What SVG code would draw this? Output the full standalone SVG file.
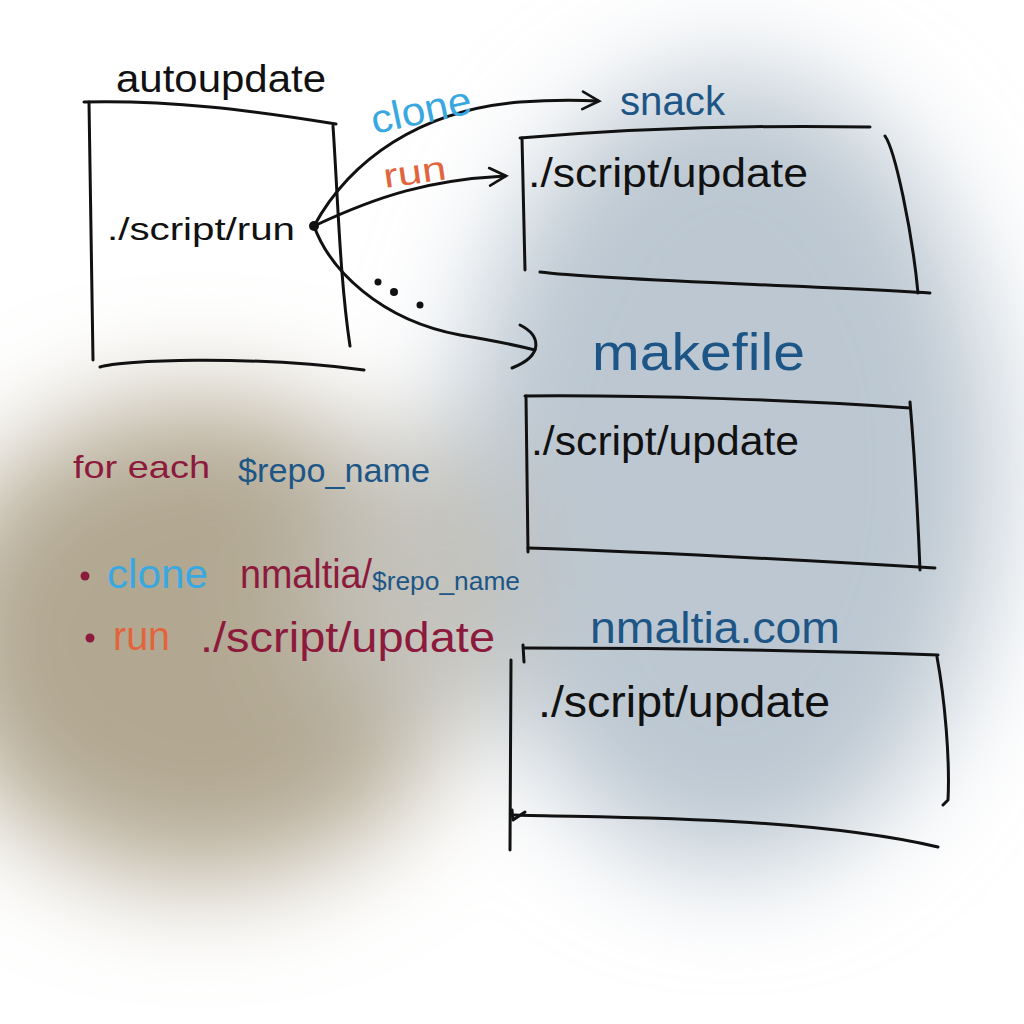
<svg xmlns="http://www.w3.org/2000/svg" width="1024" height="1024" viewBox="0 0 1024 1024">
<style>
.ln{fill:none;stroke:#111;stroke-width:3;stroke-linecap:round;stroke-linejoin:round}
.t{font-family:"Liberation Sans","DejaVu Sans",sans-serif}
.blk{fill:#111}
.dblue{fill:#1d5686}
.lblue{fill:#3aa8e0}
.org{fill:#e2643c}
.mar{fill:#8c1a3c}
</style>
<defs>
<filter id="blur" x="-50%" y="-50%" width="200%" height="200%"><feGaussianBlur stdDeviation="55"/></filter>
<marker id="chev" viewBox="0 0 20 20" refX="16" refY="10" markerWidth="22" markerHeight="22" markerUnits="userSpaceOnUse" orient="auto"><path d="M2,2 L17,10 L2,18" fill="none" stroke="#111" stroke-width="2.4" stroke-linecap="round"/></marker>
</defs>
<rect width="1024" height="1024" fill="#ffffff"/>
<g id="background" filter="url(#blur)">
<ellipse cx="730" cy="470" rx="270" ry="400" fill="#bcc7d1"/>
<ellipse cx="200" cy="640" rx="270" ry="240" fill="#b2a892"/>
<ellipse cx="420" cy="580" rx="110" ry="150" fill="#c4c2bb"/>
</g>
<g id="connectors">
<path class="ln" d="M314,226 C350,160 420,110 520,102 C550,100 575,100 598,101" marker-end="url(#chev)"/>
<path class="ln" d="M314,226 C380,195 430,180 505,176" marker-end="url(#chev)"/>
<path class="ln" d="M314,226 C330,270 380,320 460,335 C490,340 515,345 535,350"/>
<path class="ln" d="M520,325 C540,335 545,355 512,368"/>
<circle cx="314" cy="226" r="5" class="blk"/>
<circle cx="378" cy="282" r="3.5" class="blk"/>
<circle cx="394" cy="292" r="4" class="blk"/>
<circle cx="420" cy="305" r="3.5" class="blk"/>
<text class="t lblue" x="374" y="134" font-size="40" textLength="102" lengthAdjust="spacingAndGlyphs" transform="rotate(-12 374 134)">clone</text>
<text class="t org" x="385" y="188" font-size="34" textLength="63" lengthAdjust="spacingAndGlyphs" transform="rotate(-8 385 188)">run</text>
</g>
<g id="autoupdate">
<path class="ln" d="M84,102 C170,100 250,110 336,124"/>
<path class="ln" d="M89,102 L93,360"/>
<path class="ln" d="M333,126 C338,200 340,280 350,346"/>
<path class="ln" d="M100,367 C120,360 250,355 364,370"/>
<text class="t blk" x="116" y="92" font-size="38" textLength="210" lengthAdjust="spacingAndGlyphs">autoupdate</text>
<text class="t blk" x="107" y="240" font-size="32" textLength="188" lengthAdjust="spacingAndGlyphs">./script/run</text>
</g>
<g id="snack">
<path class="ln" d="M520,138 C640,128 760,125 870,127"/>
<path class="ln" d="M522,138 L525,270"/>
<path class="ln" d="M885,136 C895,150 912,230 918,293"/>
<path class="ln" d="M540,272 C600,280 800,285 930,293"/>
<text class="t dblue" x="620" y="115" font-size="40" textLength="105" lengthAdjust="spacingAndGlyphs">snack</text>
<text class="t blk" x="528" y="187" font-size="40" textLength="280" lengthAdjust="spacingAndGlyphs">./script/update</text>
</g>
<g id="makefile">
<path class="ln" d="M525,396 C650,395 800,400 910,408"/>
<path class="ln" d="M526,396 L528,552"/>
<path class="ln" d="M910,402 C915,460 918,520 920,570"/>
<path class="ln" d="M528,548 C650,552 800,560 935,568"/>
<text class="t dblue" x="592" y="370" font-size="52" textLength="213" lengthAdjust="spacingAndGlyphs">makefile</text>
<text class="t blk" x="531" y="455" font-size="40" textLength="268" lengthAdjust="spacingAndGlyphs">./script/update</text>
</g>
<g id="nmaltia_com">
<path class="ln" d="M525,648 C650,648 800,650 938,655"/>
<path class="ln" d="M523,645 L524,662"/>
<path class="ln" d="M937,657 C945,700 950,760 948,800 L943,805"/>
<path class="ln" d="M515,815 C600,818 800,815 938,847"/>
<path class="ln" d="M512,810 L513,820 L525,812"/>
<path class="ln" d="M511,660 L510,850"/>
<text class="t dblue" x="590" y="643" font-size="44" textLength="250" lengthAdjust="spacingAndGlyphs">nmaltia.com</text>
<text class="t blk" x="538" y="717" font-size="44" textLength="292" lengthAdjust="spacingAndGlyphs">./script/update</text>
</g>
<g id="steps">
<text class="t mar" x="73" y="478" font-size="32" textLength="137" lengthAdjust="spacingAndGlyphs">for each</text>
<text class="t dblue" x="238" y="482" font-size="34" textLength="192" lengthAdjust="spacingAndGlyphs">$repo_name</text>
<circle cx="85" cy="576" r="4.5" class="mar"/>
<text class="t lblue" x="107" y="588" font-size="40" textLength="101" lengthAdjust="spacingAndGlyphs">clone</text>
<text class="t mar" x="240" y="588" font-size="40" textLength="132" lengthAdjust="spacingAndGlyphs">nmaltia/</text>
<text class="t dblue" x="372" y="590" font-size="26" textLength="148" lengthAdjust="spacingAndGlyphs">$repo_name</text>
<circle cx="90" cy="638" r="4.5" class="mar"/>
<text class="t org" x="113" y="650" font-size="40" textLength="57" lengthAdjust="spacingAndGlyphs">run</text>
<text class="t mar" x="200" y="652" font-size="42" textLength="295" lengthAdjust="spacingAndGlyphs">./script/update</text>
</g>
</svg>
